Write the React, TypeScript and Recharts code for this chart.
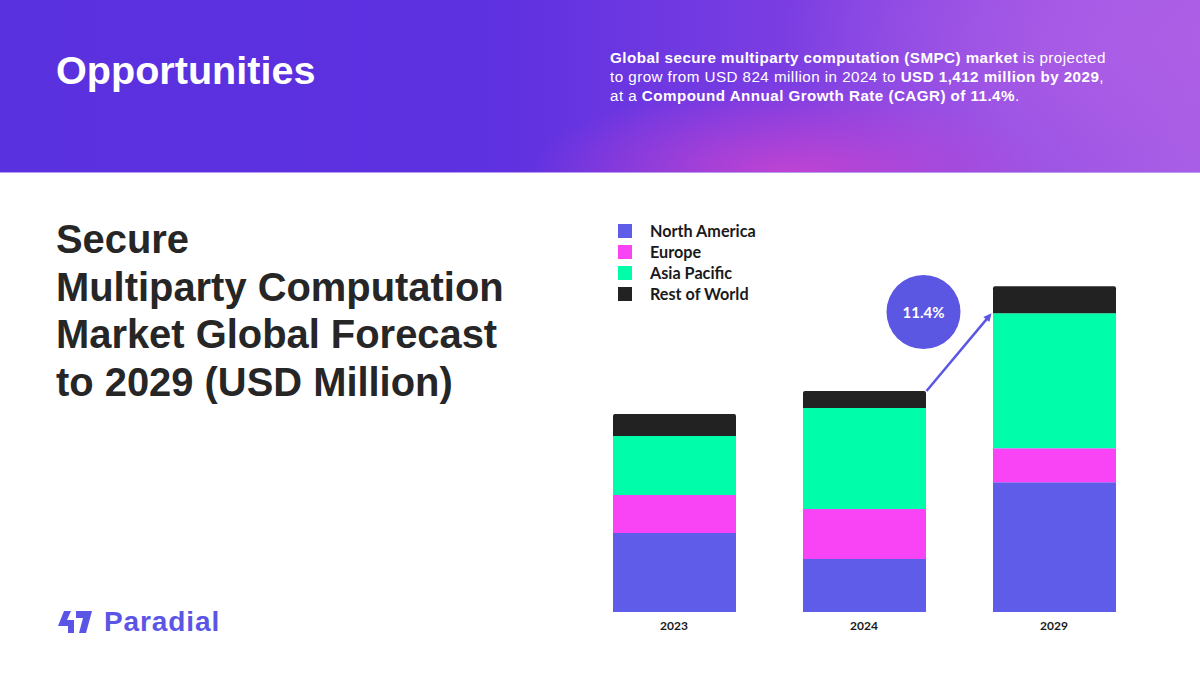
import { BarChart, Bar, XAxis, YAxis, ReferenceLine } from 'recharts';

const years = ['2023', '2024', '2029'];
const northAmerica = [342, 230, 563];
const europe = [165, 217, 147];
const asiaPacific = [256, 437, 585];
const restOfWorld = [95, 74, 117];
const cagrLabel = '11.4%';

const seriesNames = ['North America', 'Europe', 'Asia Pacific', 'Rest of World'];
const seriesColors = ['#5e5ce8', '#f944f5', '#00fdaa', '#222222'];

const data = years.map((year, i) => ({
  year,
  na: northAmerica[i],
  eu: europe[i],
  ap: asiaPacific[i],
  row: restOfWorld[i],
}));

const total = (i: number) => northAmerica[i] + europe[i] + asiaPacific[i] + restOfWorld[i];
const belowRow = (i: number) => northAmerica[i] + europe[i] + asiaPacific[i];

const BAR = 123;

function GrowthArrow(props: any) {
  const { x1, y1, x2, y2 } = props;
  if ([x1, y1, x2, y2].some(v => typeof v !== 'number' || isNaN(v))) return <g />;
  const sx = x1 + BAR / 2 + 1;
  const ex = x2 - BAR / 2 - 1;
  const ang = Math.atan2(y2 - y1, ex - sx);
  const len = 9;
  const p1 = [ex - len * Math.cos(ang - 0.45), y2 - len * Math.sin(ang - 0.45)];
  const p2 = [ex - len * Math.cos(ang + 0.45), y2 - len * Math.sin(ang + 0.45)];
  return (
    <g>
      <line x1={sx} y1={y1} x2={ex - 3 * Math.cos(ang)} y2={y2 - 3 * Math.sin(ang)} stroke="#5b57e3" strokeWidth={2.5} />
      <polygon points={`${ex},${y2} ${p1[0]},${p1[1]} ${p2[0]},${p2[1]}`} fill="#5b57e3" />
      <circle cx={sx - 3} cy={y1 - 79} r={37} fill="#5b57e3" />
      <text
        x={sx - 3}
        y={y1 - 79}
        textAnchor="middle"
        dominantBaseline="central"
        fill="#fff"
        fontFamily="Lato, sans-serif"
        fontWeight={700}
        fontSize={15}
      >
        {cagrLabel}
      </text>
    </g>
  );
}

function Logo() {
  return (
    <div style={{ position: 'absolute', left: 57, top: 606, display: 'flex', alignItems: 'center' }}>
      <svg width={36} height={24} viewBox="0 0 36 24">
        <polygon points="7,1 14,1 10,10 17,10 17,23 11,23 11,16 1,16" fill="#5b55e6" />
        <polygon points="19,1 35,1 29,23 22,23 26,8 19,8" fill="#5b55e6" />
      </svg>
      <span
        style={{
          marginLeft: 11,
          fontFamily: '"Liberation Sans", Arial, sans-serif',
          fontWeight: 700,
          fontSize: 28,
          color: '#5b55e6',
          letterSpacing: 0.9,
        }}
      >
        Paradial
      </span>
    </div>
  );
}

export default function App() {
  return (
    <div
      style={{
        position: 'fixed',
        left: 0,
        top: 0,
        width: 1200,
        height: 675,
        background: '#fff',
        overflow: 'hidden',
        fontFamily: '"Liberation Sans", Arial, sans-serif',
      }}
    >
      {/* header band */}
      <div
        style={{
          position: 'absolute',
          left: 0,
          top: 0,
          width: 1200,
          height: 172,
          background:
            'radial-gradient(ellipse 260px 90px at 790px 175px, rgba(215,70,205,0.75), rgba(215,70,205,0) 100%),' +
            'radial-gradient(ellipse 420px 160px at 1200px 40px, rgba(175,95,230,0.8), rgba(175,95,230,0) 100%),' +
            'linear-gradient(90deg, #5a31df 0%, #5d30e0 40%, #7a3de2 65%, #9a52e4 85%, #a85ee6 100%)',
          borderBottom: '1px solid #b89af0',
        }}
      />
      <div
        style={{
          position: 'absolute',
          left: 56,
          top: 48,
          color: '#fff',
          fontWeight: 700,
          fontSize: 39.6,
          lineHeight: '44px',
        }}
      >
        Opportunities
      </div>
      <div
        style={{
          position: 'absolute',
          left: 610,
          top: 48,
          color: '#fff',
          fontSize: 15.2,
          letterSpacing: 0.45,
          lineHeight: '19px',
          whiteSpace: 'nowrap',
        }}
      >
        <b>Global secure multiparty computation (SMPC) market</b> is projected
        <br />
        to grow from USD 824 million in 2024 to <b>USD 1,412 million by 2029</b>,
        <br />
        at a <b>Compound Annual Growth Rate (CAGR) of 11.4%</b>.
      </div>

      {/* title */}
      <div
        style={{
          position: 'absolute',
          left: 56,
          top: 216,
          color: '#262626',
          fontWeight: 700,
          fontSize: 39.9,
          lineHeight: '47.5px',
        }}
      >
        Secure
        <br />
        Multiparty Computation
        <br />
        Market Global Forecast
        <br />
        to 2029 (USD Million)
      </div>

      {/* legend */}
      <div style={{ position: 'absolute', left: 618, top: 220 }}>
        {seriesNames.map((name, i) => (
          <div key={name} style={{ display: 'flex', alignItems: 'center', height: 21 }}>
            <div style={{ width: 14, height: 14, background: seriesColors[i] }} />
            <span
              style={{
                marginLeft: 18,
                fontFamily: 'Lato, sans-serif',
                fontWeight: 700,
                fontSize: 16.2,
                color: '#1a1a1a',
              }}
            >
              {name}
            </span>
          </div>
        ))}
      </div>

      <div style={{ position: 'absolute', left: 579, top: 200 }}>
        <BarChart width={600} height={460} data={data} margin={{ top: 66, right: 30, left: 0, bottom: 18 }} barSize={BAR}>
          <YAxis hide domain={[0, 1500]} type="number" allowDataOverflow />
          <XAxis
            dataKey="year"
            axisLine={false}
            tickLine={false}
            height={30}
            tickMargin={3}
            tick={{ fill: '#1a1a1a', fontSize: 12, fontWeight: 700, fontFamily: 'Lato, sans-serif' }}
          />
          <Bar dataKey="na" stackId="s" fill={seriesColors[0]} isAnimationActive={false} />
          <Bar dataKey="eu" stackId="s" fill={seriesColors[1]} isAnimationActive={false} />
          <Bar dataKey="ap" stackId="s" fill={seriesColors[2]} isAnimationActive={false} />
          <Bar dataKey="row" stackId="s" fill={seriesColors[3]} radius={[2, 2, 0, 0]} isAnimationActive={false} />
          <ReferenceLine
            segment={[
              { x: years[1], y: total(1) },
              { x: years[2], y: belowRow(2) },
            ]}
            ifOverflow="visible"
            shape={GrowthArrow}
          />
        </BarChart>
      </div>

      <Logo />
    </div>
  );
}
